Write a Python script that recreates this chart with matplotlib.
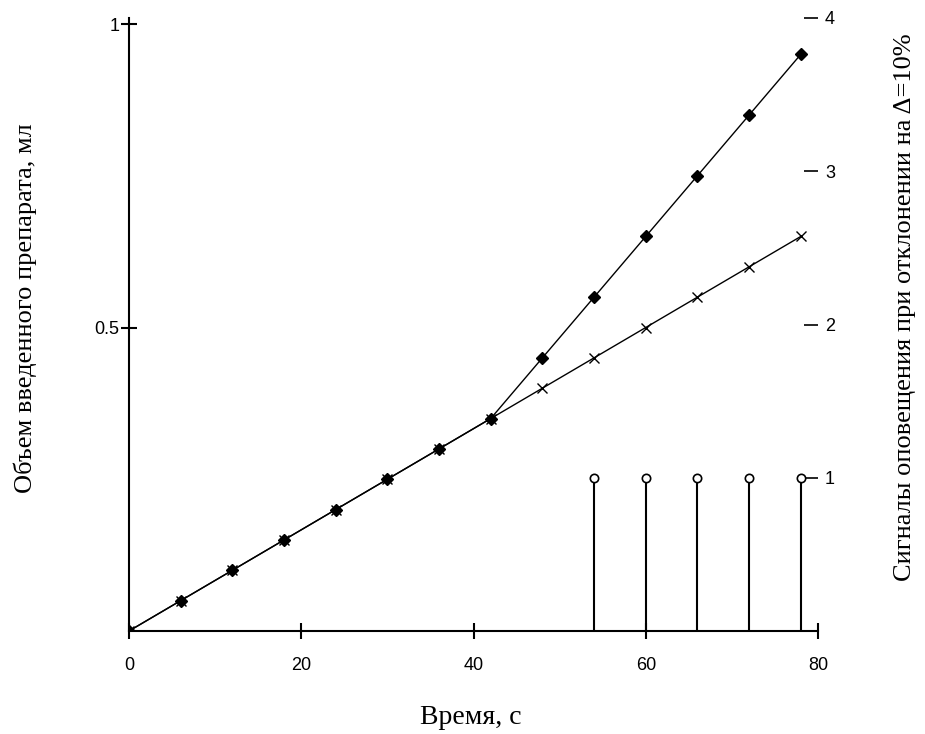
import matplotlib
matplotlib.use('Agg')

import matplotlib.pyplot as plt

# ------------------ DATA ------------------

time_s = [0, 6, 12, 18, 24, 30, 36, 42, 48, 54, 60, 66, 72, 78]
volume_fast = [0, 0.05, 0.10, 0.15, 0.20, 0.25, 0.30, 0.35,
               0.45, 0.55, 0.65, 0.75, 0.85, 0.95]
volume_norm = [0, 0.05, 0.10, 0.15, 0.20, 0.25, 0.30, 0.35,
               0.40, 0.45, 0.50, 0.55, 0.60, 0.65]

alarm_t = [54, 60, 66, 72, 78]
alarm_v = [1, 1, 1, 1, 1]

x_ticks = [0, 20, 40, 60, 80]
y_ticks = [0.5, 1]
y_tick_labels = ['0.5', '1']
r_ticks = [1, 2, 3, 4]

serif = 'Liberation Serif'
sans = 'Liberation Sans'

# ------------------ FIGURE ------------------

fig = plt.figure(figsize=(9.25, 7.34), dpi=100)
ax = fig.add_axes([129 / 925, 1 - 631 / 734, (818 - 129) / 925, (631 - 18) / 734])

ax.plot(time_s, volume_fast, color='black', lw=1.0, marker='D', ms=6,
        markerfacecolor='black', markeredgecolor='black')
ax.plot(time_s, volume_norm, color='black', lw=1.0, marker='x', ms=7,
        markeredgewidth=1.0)

ax.set_xlim(0, 80)
ax.set_ylim(0, 613 / 607)
ax.set_xticks(x_ticks)
ax.set_yticks(y_ticks)
ax.set_yticklabels(y_tick_labels)
ax.tick_params(axis='x', direction='inout', length=12, width=1.5, pad=13,
               labelsize=13)
ax.tick_params(axis='y', direction='inout', length=12, width=1.5, pad=1,
               labelsize=13)
for lbl in ax.get_xticklabels() + ax.get_yticklabels():
    lbl.set_fontfamily(sans)

for side in ['top', 'right']:
    ax.spines[side].set_visible(False)
for side in ['left', 'bottom']:
    ax.spines[side].set_linewidth(1.5)

# ------------------ RIGHT AXIS ------------------

ax2 = ax.twinx()
ax2.set_ylim(0, 4)
markerline, stemlines, baseline = ax2.stem(alarm_t, alarm_v, basefmt=' ')
plt.setp(stemlines, color='black', linewidth=1.5)
plt.setp(markerline, color='black', marker='o', markersize=6,
         markerfacecolor='white', markeredgewidth=1.2)
markerline.set_zorder(3)
ax2.set_yticks(r_ticks)
ax2.tick_params(axis='y', direction='in', length=10, width=1.2, pad=5,
                labelsize=13)
for lbl in ax2.get_yticklabels():
    lbl.set_fontfamily(sans)
for side in ['top', 'right', 'left', 'bottom']:
    ax2.spines[side].set_visible(False)

# ------------------ LABELS ------------------

fig.text(25 / 925, 1 - 308 / 734, 'Объем введенного препарата, мл',
         rotation=90, ha='center', va='center', fontsize=19, family=serif)
fig.text(905 / 925, 1 - 307 / 734, 'Сигналы оповещения при отклонении на Δ=10%',
         rotation=90, ha='center', va='center', fontsize=19, family=serif)
fig.text(471 / 925, 1 - 717 / 734, 'Время, с',
         ha='center', va='center', fontsize=20, family=serif)

plt.savefig('out.png', dpi=100)
plt.close()
